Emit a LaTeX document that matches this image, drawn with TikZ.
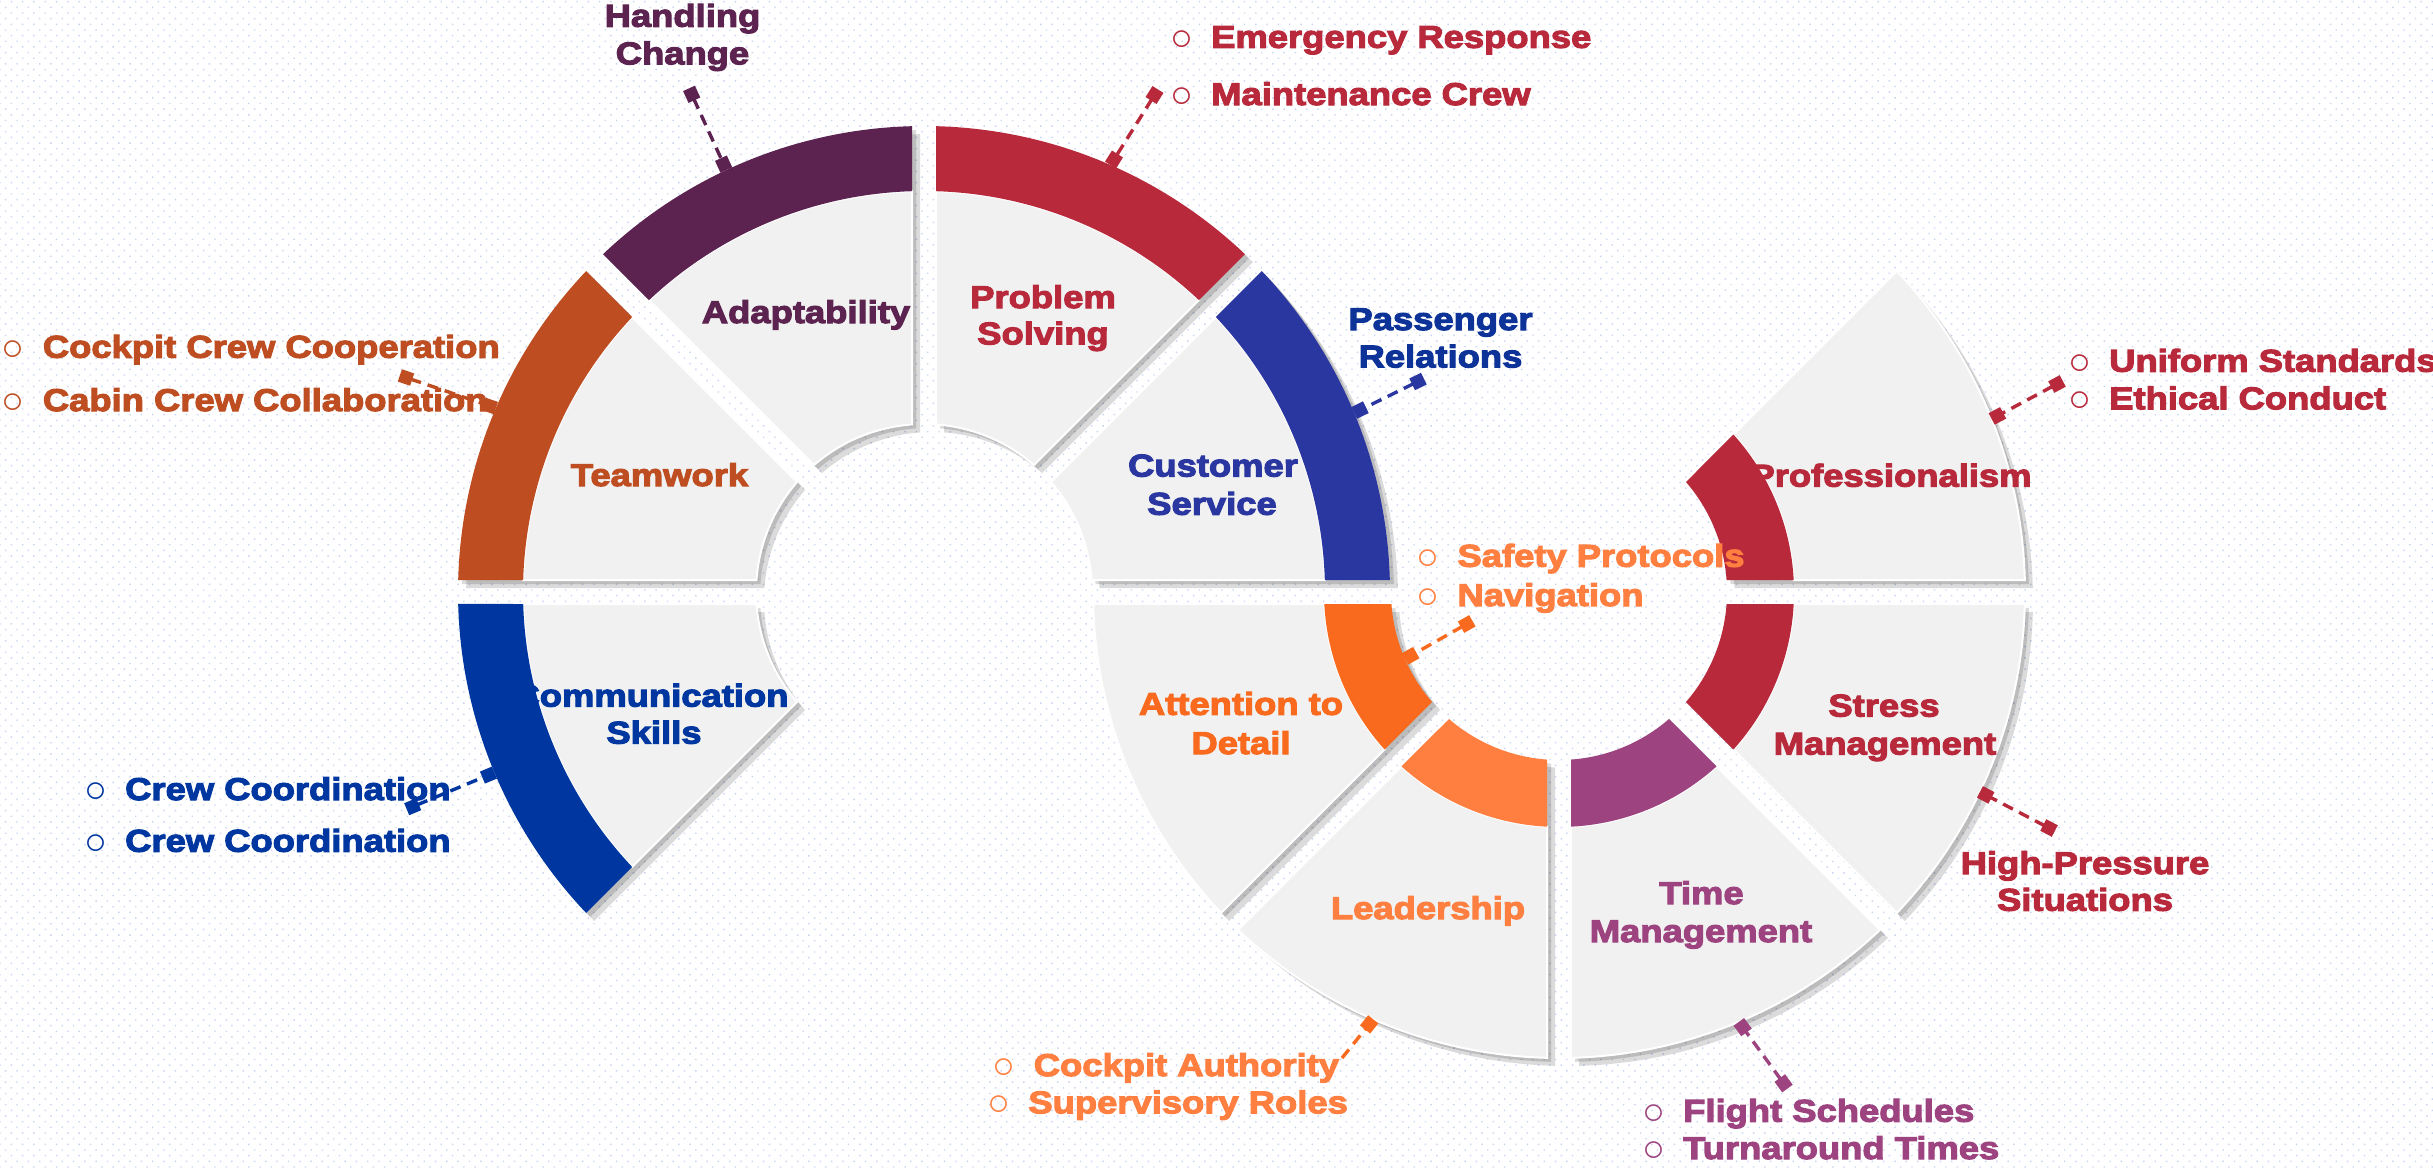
\documentclass[tikz,border=0pt]{standalone}
\usepackage{fontspec}
\setmainfont{Liberation Sans}
\newfontfamily\labfont{Liberation Sans}[FakeStretch=1.155, FakeBold=3.5]
\newfontfamily\bulfont{Liberation Sans}
\usetikzlibrary{calc,arrows.meta,patterns.meta}

\definecolor{plum}{HTML}{5C2350}
\definecolor{crim}{HTML}{B8293B}
\definecolor{csblue}{HTML}{2B37A1}
\definecolor{rust}{HTML}{BE4E22}
\definecolor{comblue}{HTML}{0036A0}
\definecolor{orA}{HTML}{FA6A1E}
\definecolor{orB}{HTML}{FF7F40}
\definecolor{tmpurp}{HTML}{9D4480}
\definecolor{segfill}{HTML}{F0F1F0}
\definecolor{dotc}{HTML}{CAD5F2}
\definecolor{prblue}{HTML}{0D3399}

\newcommand\segshape[6]{% #1 options, #2 centre, #3 a1, #4 a2, #5 rin, #6 rout
  \pgfmathsetmacro\gIn{asin(12/#5)}%
  \pgfmathsetmacro\gOut{asin(12/#6)}%
  \path[#1] ($(#2)+({#3+\gOut}:#6)$) arc[start angle={#3+\gOut}, end angle={#4-\gOut}, radius=#6]
  -- ($(#2)+({#4-\gIn}:#5)$) arc[start angle={#4-\gIn}, end angle={#3+\gIn}, radius=#5] -- cycle;}
\newcommand\bulmark{\llap{\raisebox{-2.5pt}{\bulfont\fontsize{38}{38}\selectfont ○}\hspace{18pt}}}

\begin{document}
\begin{tikzpicture}[x=1pt,y=1pt,
  seglab/.style={font=\labfont\bfseries\fontsize{31.5}{37}\selectfont, inner sep=0pt, anchor=base},
  bul/.style={seglab, anchor=base west},
  segbody/.style={fill=segfill, draw=white, line width=2pt},
  segshadow/.style={fill=black, opacity=0.14},
  conn/.style={draw=#1, line width=3.4pt, dash pattern=on 11pt off 7pt,
    arrows={Square[length=13pt,width=13pt]-Square[length=13pt,width=13pt]}, shorten <=-6.5pt},
  connone/.style={draw=#1, line width=3.4pt, dash pattern=on 11pt off 7pt,
    arrows={-Square[length=13pt,width=13pt]}}]
\useasboundingbox (0,0) rectangle (2433,-1167);
\path[fill=white] (0,0) rectangle (2433,-1167);
\path[pattern={Dots[distance=8pt,radius=1pt,angle=45]}, pattern color=dotc] (0,0) rectangle (2433,-1167);

\coordinate (L) at (924,-592);
\coordinate (R) at (1559,-592);
\coordinate (Ls) at (928,-596);
\coordinate (Rs) at (1563,-596);
\coordinate (Lt) at (932,-600);
\coordinate (Rt) at (1567,-600);

% shadows
\foreach \a/\b in {0/45,45/90,90/135,135/180,180/225}{
  \segshape{segshadow}{Lt}{\a}{\b}{168}{466}
  \segshape{segshadow}{Ls}{\a}{\b}{168}{466}}
\foreach \a/\b in {180/225,225/270,270/315,315/360,360/405}{
  \segshape{segshadow}{Rt}{\a}{\b}{168}{466}
  \segshape{segshadow}{Rs}{\a}{\b}{168}{466}}

% bodies
\foreach \a/\b in {0/45,45/90,90/135,135/180,180/225}{
  \segshape{segbody}{L}{\a}{\b}{168}{401}}
\foreach \a/\b in {180/225,225/270,270/315,315/360,360/405}{
  \segshape{segbody}{R}{\a}{\b}{235}{466}}

% segment labels
\node[seglab, text=plum] (adapt) at (806,-323) {Adaptability};
\node[seglab, text=rust] (team) at (659.5,-486) {Teamwork};
\node[seglab, text=crim] (prob1) at (1043,-308) {Problem};
\node[seglab, text=crim] (prob2) at (1043,-344.4) {Solving};
\node[seglab, text=csblue] (cust1) at (1213,-476.5) {Customer};
\node[seglab, text=csblue] (cust2) at (1212,-514.7) {Service};
\node[seglab, text=comblue] (comm1) at (651,-706.6) {Communication};
\node[seglab, text=comblue] (comm2) at (654,-743.6) {Skills};
\node[seglab, text=orA] (att1) at (1241,-714.8) {Attention to};
\node[seglab, text=orA] (att2) at (1241,-754) {Detail};
\node[seglab, text=orB] (lead) at (1428,-919) {Leadership};
\node[seglab, text=tmpurp] (time1) at (1701.5,-904) {Time};
\node[seglab, text=tmpurp] (time2) at (1701,-942) {Management};
\node[seglab, text=crim] (str1) at (1884,-716.5) {Stress};
\node[seglab, text=crim] (str2) at (1885,-754.5) {Management};
\node[seglab, text=crim] (prof) at (1891,-486.6) {Professionalism};

% bands
\segshape{fill=csblue}{L}{0}{45}{401}{466}
\segshape{fill=crim}{L}{45}{90}{401}{466}
\segshape{fill=plum}{L}{90}{135}{401}{466}
\segshape{fill=rust}{L}{135}{180}{401}{466}
\segshape{fill=comblue}{L}{180}{225}{401}{466}
\segshape{fill=orA}{R}{180}{225}{168}{235}
\segshape{fill=orB}{R}{225}{270}{168}{235}
\segshape{fill=tmpurp}{R}{270}{315}{168}{235}
\segshape{fill=crim}{R}{315}{360}{168}{235}
\segshape{fill=crim}{R}{360}{405}{168}{235}

% outside labels
\node[seglab, text=plum] (hc1) at (682.5,-26.7) {Handling};
\node[seglab, text=plum] (hc2) at (682.5,-64.3) {Change};
\node[bul, text=crim] (er) at (1211,-47.8) {\bulmark Emergency Response};
\node[bul, text=crim] (mc) at (1211,-105) {\bulmark Maintenance Crew};
\node[seglab, text=prblue] (pr1) at (1440.5,-330) {Passenger};
\node[seglab, text=prblue] (pr2) at (1440.5,-367.4) {Relations};
\node[bul, text=rust] (ccc) at (42.7,-357.7) {\bulmark Cockpit Crew Cooperation};
\node[bul, text=rust] (cbc) at (42.7,-411) {\bulmark Cabin Crew Collaboration};
\node[bul, text=comblue] (cc1) at (125,-800) {\bulmark Crew Coordination};
\node[bul, text=comblue] (cc2) at (125,-851.7) {\bulmark Crew Coordination};
\node[bul, text=orB] (sp) at (1457.3,-566.7) {\bulmark Safety Protocols};
\node[bul, text=orB] (nav) at (1457.3,-606) {\bulmark Navigation};
\node[bul, text=orB] (ca) at (1033.6,-1076) {\bulmark Cockpit Authority};
\node[bul, text=orB] (sr) at (1028.2,-1113.3) {\bulmark Supervisory Roles};
\node[bul, text=tmpurp] (fs) at (1683,-1121.7) {\bulmark Flight Schedules};
\node[bul, text=tmpurp] (tt) at (1683,-1159) {\bulmark Turnaround Times};
\node[seglab, text=crim] (hp1) at (2085,-874) {High-Pressure};
\node[seglab, text=crim] (hp2) at (2085,-910.7) {Situations};
\node[bul, text=crim] (us) at (2109,-371.7) {\bulmark Uniform Standards};
\node[bul, text=crim] (ec) at (2109,-409.3) {\bulmark Ethical Conduct};

% connectors
\coordinate (hcM) at (691.7,-94.3);   \coordinate (hcE) at ($(L)+(115.1:466)$);
\coordinate (psM) at (1154.5,-95);    \coordinate (psE) at ($(L)+(66.4:466)$);
\coordinate (paM) at (1418,-381.5);   \coordinate (paE) at ($(L)+(22.6:466)$);
\coordinate (twM) at (406,-377.5);    \coordinate (twE) at ($(L)+(156.75:466)$);
\coordinate (cmM) at (412.7,-806.7);  \coordinate (cmE) at ($(L)+(202.8:466)$);
\coordinate (sfM) at (1466.7,-624);   \coordinate (sfE) at ($(R)+(203.5:168)$);
\coordinate (caM) at (1342,-1058);    \coordinate (caE) at ($(R)+(246.5:466)$);
\coordinate (fsM) at (1783.6,-1083.3);\coordinate (fsE) at ($(R)+(292.7:466)$);
\coordinate (hpM) at (2049,-828);     \coordinate (hpE) at ($(R)+(334.6:466)$);
\coordinate (usM) at (2057,-384);     \coordinate (usE) at ($(R)+(21.8:466)$);

\draw[conn=plum] (hcM) -- (hcE);
\draw[conn=crim] (psM) -- (psE);
\draw[conn=csblue] (paM) -- (paE);
\draw[conn=rust] (twM) -- (twE);
\draw[conn=comblue] (cmM) -- (cmE);
\draw[conn=orA] (sfM) -- (sfE);
\draw[connone=orA] (caM) -- (caE);
\draw[conn=tmpurp] (fsM) -- (fsE);
\draw[conn=crim] (hpM) -- (hpE);
\draw[conn=crim] (usM) -- (usE);
\end{tikzpicture}
\end{document}
